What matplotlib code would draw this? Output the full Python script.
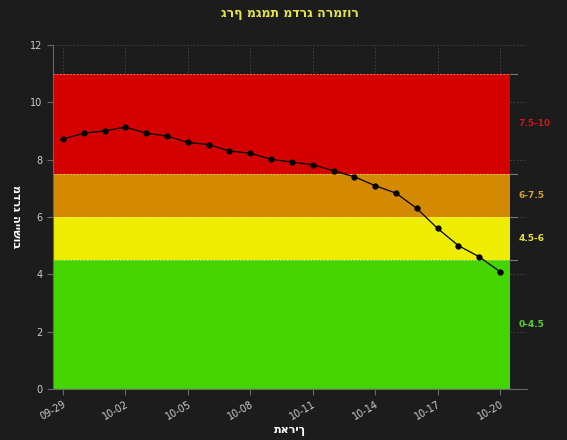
import matplotlib.pyplot as plt

# נתונים
dates = ["09-29", "09-30", "10-01", "10-02", "10-03", "10-04", "10-05", "10-06",
         "10-07", "10-08", "10-09", "10-10", "10-11", "10-12", "10-13", "10-14",
         "10-15", "10-16", "10-17", "10-18", "10-19", "10-20"]
values = [8.72, 8.92, 9.0, 9.13, 8.92, 8.82, 8.6, 8.52, 8.3, 8.22, 8.01,
          7.91, 7.82, 7.61, 7.4, 7.09, 6.83, 6.3, 5.6, 5.0, 4.61, 4.09]

band_lo = [0, 4.5, 6, 7.5]
band_hi = [4.5, 6, 7.5, 11]
band_colors = ["#44d400", "#eeec00", "#d48a00", "#d40000"]
band_labels = ["0-4.5", "4.5-6", "6-7.5", "7.5-10"]
label_colors = ["#5ccf2a", "#e8e43a", "#d9a030", "#c81818"]

title = "גרף מגמת מדרג הרמזור"
xlabel = "תאריך"
ylabel = "מדרג היישוב"

bg = "#1c1c1c"
fig = plt.figure(figsize=(5.67, 4.4), dpi=100, facecolor=bg)
ax = fig.add_axes([0.0935, 0.116, 0.836, 0.782], facecolor=bg)

n = len(dates)
x = list(range(n))
x0, x1 = -0.5, n - 0.5

# רצועות הרמזור
for lo, hi, c in zip(band_lo, band_hi, band_colors):
    ax.fill_between([x0, x1], lo, hi, color=c, lw=0, zorder=1)
for b in sorted(set(band_lo + band_hi)):
    ax.plot([x0, x1], [b, b], ls=(0, (2, 2)), color="#e8e8c8", lw=0.6, alpha=0.7, zorder=2)
    ax.plot([x1, x1 + 0.3], [b, b], color="#777777", lw=0.8, zorder=2, clip_on=False)

# תוויות הרצועות
for lo, hi, t, c in zip(band_lo, band_hi, band_labels, label_colors):
    ax.text(x1 + 0.4, (lo + hi) / 2, t, color=c, fontsize=6.5, fontweight="bold",
            va="center", ha="left")

ax.plot(x, values, color="black", lw=0.9, marker="o", ms=3.5, zorder=4)

ax.set_xlim(-0.48, 22.3)
ax.set_ylim(0, 12)
ticks = x[::3]
ax.set_xticks(ticks)
ax.set_xticklabels([dates[i] for i in ticks], rotation=30, ha="right",
                   rotation_mode="anchor")
ax.set_yticks(range(0, 13, 2))

ax.grid(True, color="#444444", ls=(0, (2, 2)), lw=0.6, zorder=0)
ax.set_axisbelow(True)

for s in ["top", "right"]:
    ax.spines[s].set_visible(False)
for s in ["left", "bottom"]:
    ax.spines[s].set_color("#666666")
ax.tick_params(colors="#666666", labelcolor="#cccccc", labelsize=7, length=4)

ax.set_title(title, color="#e4e44a", fontsize=9, fontweight="bold", pad=20)
ax.set_xlabel(xlabel, color="white", fontsize=8, fontweight="bold", labelpad=3)
ax.set_ylabel(ylabel, color="white", fontsize=8, fontweight="bold", labelpad=10,
              rotation=270, va="center")

fig.savefig("out.png", dpi=100, facecolor=bg)
